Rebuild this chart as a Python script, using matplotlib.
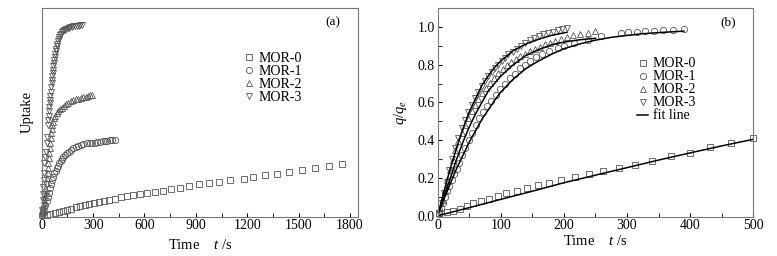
import matplotlib
matplotlib.use("Agg")
import matplotlib.pyplot as plt
from matplotlib.ticker import MultipleLocator, FormatStrFormatter

plt.rcParams['font.family'] = ['Liberation Serif', 'DejaVu Serif']
plt.rcParams['mathtext.fontset'] = 'custom'
plt.rcParams['mathtext.it'] = 'Liberation Serif:italic'
plt.rcParams['mathtext.rm'] = 'Liberation Serif'

# ---------------- panel (a): uptake vs time ----------------
a_mor0_t = [29, 49, 76, 101, 123, 146, 171, 198, 224, 251, 278, 305, 335, 364, 395, 428,
            461, 500, 535, 574, 615, 662, 708, 757, 808, 860, 918, 975, 1035, 1097, 1179,
            1236, 1304, 1372, 1446, 1522, 1596, 1677, 1751]
a_mor0_u = [0.006, 0.011, 0.016, 0.022, 0.027, 0.032, 0.038, 0.045, 0.050, 0.056, 0.061,
            0.067, 0.070, 0.075, 0.080, 0.086, 0.093, 0.098, 0.104, 0.109, 0.115, 0.118,
            0.123, 0.133, 0.139, 0.147, 0.155, 0.163, 0.168, 0.174, 0.181, 0.190, 0.198,
            0.206, 0.213, 0.222, 0.232, 0.243, 0.251]

a_mor1_t = [0, 5, 10, 15, 21, 28, 35, 42, 49, 55, 62, 68, 74, 81, 88, 95, 103, 110, 117,
            126, 136, 148, 160, 172, 185, 199, 214, 228, 243, 262, 282, 296, 311, 325,
            340, 355, 370, 384, 399, 413, 428]
a_mor1_u = [0.008, 0.016, 0.024, 0.040, 0.056, 0.076, 0.096, 0.116, 0.136, 0.156, 0.176,
            0.192, 0.208, 0.220, 0.232, 0.244, 0.256, 0.266, 0.275, 0.286, 0.296, 0.304,
            0.312, 0.320, 0.328, 0.335, 0.341, 0.345, 0.349, 0.351, 0.352, 0.354, 0.355,
            0.357, 0.360, 0.361, 0.363, 0.364, 0.366, 0.367, 0.368]

a_mor2_t = [3, 6, 10, 13, 16, 20, 23, 26, 29, 32, 35, 37, 39, 42, 45, 47, 49, 52, 54, 58,
            62, 67, 72, 80, 88, 97, 107, 118, 130, 143, 156, 170, 185, 199, 214, 228, 243,
            258, 272, 282, 292]
a_mor2_u = [0.008, 0.030, 0.050, 0.064, 0.080, 0.096, 0.112, 0.130, 0.160, 0.184, 0.208,
            0.232, 0.256, 0.280, 0.304, 0.328, 0.352, 0.376, 0.400, 0.420, 0.440, 0.456,
            0.472, 0.484, 0.496, 0.506, 0.515, 0.523, 0.531, 0.539, 0.547, 0.554, 0.560,
            0.563, 0.566, 0.570, 0.573, 0.576, 0.579, 0.582, 0.584]

a_mor3_t = [2, 4, 6, 8, 10, 13, 16, 16, 20, 25, 29, 29, 35, 39, 41, 43, 45, 47, 49, 51,
            53, 55, 58, 60, 62, 64, 66, 68, 70, 73, 75, 78, 81, 84, 87, 91, 95, 99, 103,
            107, 112, 118, 124, 130, 136, 144, 152, 160, 168, 175, 185, 195, 205, 215,
            225, 234]
a_mor3_u = [0.010, 0.030, 0.080, 0.110, 0.144, 0.175, 0.208, 0.256, 0.285, 0.312, 0.352,
            0.384, 0.440, 0.464, 0.485, 0.505, 0.525, 0.545, 0.560, 0.580, 0.600, 0.620,
            0.640, 0.656, 0.675, 0.690, 0.705, 0.720, 0.736, 0.752, 0.766, 0.780, 0.794,
            0.806, 0.818, 0.830, 0.842, 0.852, 0.862, 0.870, 0.878, 0.885, 0.890, 0.894,
            0.897, 0.900, 0.903, 0.906, 0.909, 0.911, 0.912, 0.914, 0.915, 0.916, 0.917,
            0.918]

# ---------------- panel (b): q/qe vs time with fits ----------------
b_mor0_t = [2, 14, 25, 35, 46, 56, 68, 81, 95, 109, 125, 141, 159, 177, 196, 218, 240,
            262, 287, 313, 340, 370, 400, 431, 464, 500]
b_mor0_q = [0.012, 0.021, 0.027, 0.037, 0.051, 0.066, 0.076, 0.087, 0.105, 0.119, 0.133,
            0.145, 0.163, 0.176, 0.190, 0.207, 0.222, 0.239, 0.255, 0.271, 0.289, 0.317,
            0.335, 0.363, 0.385, 0.410]

b_mor1_t = [2, 5, 8, 11, 15, 18, 22, 26, 30, 34, 39, 44, 49, 54, 60, 66, 72, 78, 85, 92,
            99, 106, 114, 122, 130, 138, 147, 156, 166, 177, 190, 200, 216, 238, 258, 290,
            302, 315, 328, 342, 357, 373, 390]
b_mor1_q = [0.01, 0.04, 0.07, 0.10, 0.13, 0.16, 0.19, 0.22, 0.25, 0.28, 0.32, 0.36, 0.40,
            0.44, 0.48, 0.52, 0.55, 0.58, 0.61, 0.64, 0.67, 0.70, 0.73, 0.75, 0.78, 0.80,
            0.82, 0.84, 0.855, 0.87, 0.89, 0.90, 0.915, 0.93, 0.95, 0.97, 0.972, 0.975,
            0.977, 0.980, 0.982, 0.984, 0.988]

b_mor2_t = [3.7, 7.9, 11.6, 15.3, 19.5, 23.8, 28, 32.7, 38, 43.3, 48.6, 53.9, 59.1, 64.4,
            69.7, 76, 82.9, 89.2, 96.1, 103, 109.3, 116.2, 123.6, 130.4, 138.3, 146.3,
            154.2, 162.1, 170, 177.9, 185.9, 194.8, 204.3, 214.9, 225.5, 238.7, 249.2]
b_mor2_q = [0.039, 0.083, 0.137, 0.19, 0.243, 0.296, 0.349, 0.394, 0.438, 0.482, 0.518,
            0.553, 0.589, 0.619, 0.651, 0.677, 0.704, 0.727, 0.754, 0.775, 0.796, 0.814,
            0.832, 0.846, 0.858, 0.872, 0.885, 0.895, 0.908, 0.917, 0.926, 0.938, 0.949,
            0.956, 0.961, 0.97, 0.979]

b_mor3_t = [2.1, 6.3, 10, 14.3, 18.5, 22.7, 27.5, 32.7, 38, 43.3, 48.6, 53.9, 59.1, 64.4,
            69.7, 75, 80.3, 85.5, 90.8, 96.1, 101.4, 106.7, 112, 118.8, 125.1, 132, 138.3,
            146.3, 153.1, 160.5, 167.4, 175.3, 182.2, 190.1, 197.5, 204.3]
b_mor3_q = [0.012, 0.066, 0.119, 0.181, 0.243, 0.30, 0.358, 0.411, 0.465, 0.509, 0.548,
            0.589, 0.624, 0.654, 0.686, 0.713, 0.739, 0.761, 0.784, 0.801, 0.819, 0.837,
            0.855, 0.869, 0.885, 0.899, 0.917, 0.931, 0.943, 0.952, 0.963, 0.97, 0.975,
            0.982, 0.988, 0.993]

fit0_t = [0, 50, 100, 150, 200, 250, 300, 350, 400, 450, 500]
fit0_q = [0, 0.043, 0.087, 0.130, 0.175, 0.215, 0.255, 0.295, 0.333, 0.370, 0.405]
fit1_t = [0, 5, 10, 20, 30, 40, 50, 60, 70, 80, 90, 100, 120, 140, 160, 180, 200, 225,
          250, 275, 300, 325, 350, 390]
fit1_q = [0, 0.045, 0.09, 0.17, 0.25, 0.32, 0.39, 0.45, 0.51, 0.56, 0.61, 0.655, 0.725,
          0.78, 0.82, 0.855, 0.885, 0.91, 0.93, 0.945, 0.955, 0.964, 0.970, 0.978]
fit2_t = [0, 5, 10, 20, 30, 40, 50, 60, 70, 80, 90, 100, 120, 140, 160, 180, 200, 225, 250]
fit2_q = [0, 0.05, 0.10, 0.20, 0.30, 0.39, 0.47, 0.54, 0.60, 0.66, 0.70, 0.74, 0.80,
          0.85, 0.88, 0.905, 0.92, 0.932, 0.94]
fit3_t = [0, 5, 10, 20, 30, 40, 50, 60, 70, 80, 90, 100, 120, 140, 160, 180, 205]
fit3_q = [0, 0.065, 0.13, 0.25, 0.36, 0.46, 0.55, 0.62, 0.69, 0.74, 0.785, 0.82, 0.875,
          0.91, 0.935, 0.955, 0.972]

labels = ['MOR-0', 'MOR-1', 'MOR-2', 'MOR-3']
markers = ['s', 'o', '^', 'v']

fig = plt.figure(figsize=(7.77, 2.56), dpi=100)
ax1 = fig.add_axes([0.0537, 0.1535, 0.4067, 0.815])
ax2 = fig.add_axes([0.5633, 0.1535, 0.4062, 0.815])

mk = dict(linestyle='none', markersize=4.5, markerfacecolor='none',
          markeredgecolor='#555555', markeredgewidth=0.6, clip_on=False)

a_data = [(a_mor0_t, a_mor0_u), (a_mor1_t, a_mor1_u), (a_mor2_t, a_mor2_u), (a_mor3_t, a_mor3_u)]
for (t, u), m, lab in zip(a_data, markers, labels):
    ax1.plot(t, u, marker=m, label=lab, **mk)

ax1.set_xlim(0, 1845)
ax1.set_ylim(0, 1)
ax1.set_yticks([])
ax1.xaxis.set_major_locator(MultipleLocator(300))
ax1.xaxis.set_minor_locator(MultipleLocator(150))
ax1.tick_params(axis='x', which='both', direction='in', labelsize=10, length=3, pad=2)
ax1.set_xlabel('Time    $t$ /s', fontsize=10.5, labelpad=4)
ax1.set_ylabel('Uptake', fontsize=10.5, labelpad=6)
ax1.text(0.92, 0.93, '(a)', transform=ax1.transAxes, fontsize=9.5, ha='center', va='center')
ax1.legend(loc='upper left', bbox_to_anchor=(0.62, 0.815), frameon=False, fontsize=10,
           handlelength=0.8, handletextpad=0.3, labelspacing=0.0, borderaxespad=0)

b_data = [(b_mor0_t, b_mor0_q), (b_mor1_t, b_mor1_q), (b_mor2_t, b_mor2_q), (b_mor3_t, b_mor3_q)]
for (t, q), m, lab in zip(b_data, markers, labels):
    ax2.plot(t, q, marker=m, label=lab, **mk)
fits = [(fit0_t, fit0_q), (fit1_t, fit1_q), (fit2_t, fit2_q), (fit3_t, fit3_q)]
for i, (t, q) in enumerate(fits):
    ax2.plot(t, q, color='black', lw=1.1, label='fit line' if i == 0 else None)

ax2.set_xlim(0, 500)
ax2.set_ylim(-0.005, 1.1)
ax2.xaxis.set_major_locator(MultipleLocator(100))
ax2.xaxis.set_minor_locator(MultipleLocator(50))
ax2.yaxis.set_major_locator(MultipleLocator(0.2))
ax2.yaxis.set_minor_locator(MultipleLocator(0.1))
ax2.yaxis.set_major_formatter(FormatStrFormatter('%.1f'))
ax2.tick_params(which='both', direction='in', labelsize=10, length=3, pad=2)
ax2.set_xlabel('Time    $t$ /s', fontsize=10.5, labelpad=1)
ax2.set_ylabel('$q/q_e$', fontsize=10.5, labelpad=6)
ax2.text(0.92, 0.93, '(b)', transform=ax2.transAxes, fontsize=9.5, ha='center', va='center')
ax2.legend(loc='upper left', bbox_to_anchor=(0.615, 0.79), frameon=False, fontsize=10,
           handlelength=0.8, handletextpad=0.3, labelspacing=0.0, borderaxespad=0)

for ax in (ax1, ax2):
    for s in ax.spines.values():
        s.set_color('#777777')
        s.set_linewidth(0.8)

fig.savefig('out.png', dpi=100)
